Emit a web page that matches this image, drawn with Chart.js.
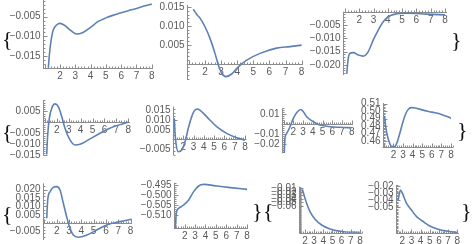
<!DOCTYPE html>
<html>
<head>
<meta charset="utf-8">
<script src="https://cdn.jsdelivr.net/npm/chart.js@4/dist/chart.umd.min.js"></script>
<style>
  body { margin: 0; background: #fff; width: 472px; height: 244px; overflow: hidden; position: relative; }
  canvas { position: absolute; left: 0; top: 0; }
  .br { position: absolute; font: 22px "Liberation Serif"; color: #111; line-height: 1; }
</style>
</head>
<body>
<script>
// === DATA ===
const xTicks = [2, 3, 4, 5, 6, 7, 8];

// row 1
const p1X = [1.24, 1.3, 1.4, 1.56, 1.78, 2.0, 2.3, 2.7, 3.09, 3.5, 4.0, 4.5, 5.0, 5.5, 6.0, 6.5, 7.0, 7.5, 8.0];
const p1Y = [-0.0180, -0.0150, -0.0115, -0.0084, -0.0071, -0.0067, -0.0072, -0.0085, -0.0094, -0.0090, -0.0077, -0.0062, -0.0053, -0.0046, -0.0040, -0.0034, -0.0029, -0.0023, -0.0018];
const p1Ticks = [-0.015, -0.010, -0.005];

const p2X = [1.27, 1.5, 1.69, 2.0, 2.31, 2.62, 2.83, 3.04, 3.3, 3.66, 4.07, 4.59, 5.42, 6.45, 7.28, 8.0];
const p2Y = [0.01446, 0.0130, 0.0121, 0.0098, 0.0067, 0.0027, -0.0004, -0.0026, -0.0035, -0.0028, -0.0009, 0.0009, 0.0027, 0.0041, 0.0045, 0.0049];
const p2Ticks = [0.005, 0.010, 0.015];

const p3X = [1.12, 1.23, 1.35, 1.58, 1.93, 2.28, 2.63, 2.98, 3.33, 3.68, 4.03, 4.5, 5.32, 6.72, 8.0];
const p3Y = [-0.0234, -0.0175, -0.0156, -0.0154, -0.0163, -0.0167, -0.0150, -0.0106, -0.0069, -0.0038, -0.0019, -0.0009, -0.0006, -0.0009, -0.0012];
const p3Ticks = [-0.020, -0.015, -0.010, -0.005];

// row 2
const p4X = [1.16, 1.24, 1.38, 1.58, 1.86, 2.13, 2.42, 2.69, 3.11, 3.53, 3.95, 4.65, 5.63, 6.74, 8.0];
const p4Y = [-0.0146, -0.0058, 0.0018, 0.0064, 0.0084, 0.0071, 0.0026, -0.0027, -0.0080, -0.0103, -0.0100, -0.0080, -0.0050, -0.0020, 0.0];
const p4Ticks = [-0.015, -0.010, -0.005, 0.005];

const p5X = [1.13, 1.19, 1.29, 1.52, 1.85, 2.17, 2.49, 2.82, 3.14, 3.4, 3.79, 4.43, 5.25, 6.22, 7.2, 8.0];
const p5Y = [0.011, 0.004, -0.0021, -0.0065, -0.0056, -0.0013, 0.0058, 0.0119, 0.0154, 0.0159, 0.0145, 0.011, 0.0066, 0.0031, 0.0008, -0.0004];
const p5Ticks = [-0.005, 0.005, 0.010, 0.015];

const p6X = [1.07, 1.14, 1.32, 1.66, 2.0, 2.4, 2.75, 3.05, 3.37, 4.05, 4.74, 5.77, 6.8, 8.0];
const p6Y = [-0.029, -0.014, -0.009, -0.0024, 0.006, 0.0122, 0.0148, 0.0123, 0.0076, 0.0026, -0.0007, -0.0024, -0.003, -0.0034];
const p6Ticks = [-0.02, -0.01, 0.01];

const p7X = [1.05, 1.2, 1.4, 1.6, 1.8, 2.0, 2.2, 2.4, 2.7, 3.0, 3.3, 3.6, 3.9, 4.3, 5.0, 6.0, 7.0, 8.0];
const p7Y = [0.4935, 0.478, 0.465, 0.457, 0.4525, 0.452, 0.4535, 0.459, 0.472, 0.486, 0.497, 0.503, 0.5045, 0.504, 0.5015, 0.4985, 0.4955, 0.4905];
const p7Ticks = [0.46, 0.47, 0.48, 0.49, 0.50, 0.51];

// row 3
const p8X = [1.19, 1.27, 1.46, 1.72, 2.0, 2.27, 2.54, 2.81, 3.08, 3.35, 3.76, 4.44, 5.25, 6.07, 7.15, 8.1];
const p8Y = [0.003, 0.0139, 0.0188, 0.0214, 0.0218, 0.0198, 0.0119, 0.0039, -0.003, -0.007, -0.0083, -0.007, -0.004, -0.001, 0.001, 0.0024];
const p8Ticks = [-0.005, 0.005, 0.010, 0.015, 0.020];

const p9X = [1.1, 1.19, 1.41, 1.9, 2.38, 2.86, 3.34, 3.82, 5.1, 6.38, 8.0];
const p9Y = [-0.5167, -0.5092, -0.5067, -0.505, -0.5025, -0.4983, -0.4955, -0.4947, -0.4955, -0.4963, -0.4972];
const p9Ticks = [-0.510, -0.505, -0.500, -0.495];

const p10X = [1.71, 2.0, 2.25, 2.55, 3.1, 3.82, 4.73, 6.18, 8.0];
const p10Y = [-0.0128, -0.038, -0.057, -0.076, -0.0976, -0.1137, -0.125, -0.1326, -0.135];
const p10Ticks = [-0.06, -0.05, -0.04, -0.03, -0.02, -0.01];

const p11X = [1.55, 1.8, 2.0, 2.47, 3.0, 3.56, 4.2, 5.0, 6.0, 6.8, 8.0];
const p11Y = [-0.0393, -0.025, -0.0293, -0.044, -0.0536, -0.0631, -0.0693, -0.0764, -0.0814, -0.0836, -0.0857];
const p11Ticks = [-0.05, -0.04, -0.03, -0.02];

// === LAYOUT (plot box in page px + axis ranges) ===
const plots = [
  { xs: p1X, ys: p1Y, ticks: p1Ticks, dec: 3, box: [43, 0, 153, 68],       x: [0.89, 8.08],  y: [-0.01805, -0.00075] },
  { xs: p2X, ys: p2Y, ticks: p2Ticks, dec: 3, box: [186.7, 5, 303, 80],    x: [0.863, 8.087], y: [-0.0044, 0.0156] },
  { xs: p3X, ys: p3Y, ticks: p3Ticks, dec: 3, box: [343.3, 11.7, 447, 75], x: [0.881, 8.143], y: [-0.0238, 0] },
  { xs: p4X, ys: p4Y, ticks: p4Ticks, dec: 3, box: [43.3, 100, 130, 155.5], x: [0.874, 8.14], y: [-0.01509, 0.01014] },
  { xs: p5X, ys: p5Y, ticks: p5Ticks, dec: 3, box: [172.7, 106.7, 246.5, 155], x: [0.971, 8.15], y: [-0.00823, 0.0171] },
  { xs: p6X, ys: p6Y, ticks: p6Ticks, dec: 2, box: [281.7, 108.3, 353, 153.3], x: [0.805, 8.13], y: [-0.029, 0.016] },
  { xs: p7X, ys: p7Y, ticks: p7Ticks, dec: 2, box: [382.7, 103, 453, 147], x: [0.875, 8.21], y: [0.452, 0.5107] },
  { xs: p8X, ys: p8Y, ticks: p8Ticks, dec: 3, box: [43.3, 183.3, 132, 240], x: [0.911, 8.12], y: [-0.00994, 0.0238] },
  { xs: p9X, ys: p9Y, ticks: p9Ticks, dec: 3, box: [174, 182.7, 248, 228.3], x: [0.971, 8.09], y: [-0.51665, -0.49385] },
  { xs: p10X, ys: p10Y, ticks: p10Ticks, dec: 2, box: [299.3, 186.7, 362, 232.7], x: [1.382, 8.22], y: [-0.1354, -0.00548] },
  { xs: p11X, ys: p11Y, ticks: p11Ticks, dec: 2, box: [396, 185, 459, 233.3], x: [1.316, 8.19], y: [-0.0869, -0.0179] }
];

const braces = [
  ['{', 2, 28], ['}', 451, 29],
  ['{', 2, 121], ['}', 457, 119],
  ['{', 2, 203], ['}', 252, 200], ['{', 263, 200], ['}', 461, 200]
];

// === AXES PLUGIN (Mathematica style axes) ===
const fmt = (v, d) => (v < 0 ? '\u2212' : '') + Math.abs(v).toFixed(d);

const mmaAxes = {
  id: 'mmaAxes',
  beforeDatasetsDraw(chart, args, o) {
    const { ctx, chartArea: a, scales: { x, y } } = chart;
    const axisV = (y.min <= 0 && y.max >= 0) ? 0 : y.min;
    const ay = Math.round(y.getPixelForValue(axisV)) + 0.5;
    const ax = Math.round(a.left) + 0.5;
    ctx.save();
    ctx.strokeStyle = '#8c8c8c';
    ctx.lineWidth = 1;
    ctx.beginPath();
    ctx.moveTo(a.left, ay); ctx.lineTo(a.right, ay);
    ctx.moveTo(ax, a.top); ctx.lineTo(ax, a.bottom);
    // x ticks, minor every 0.2
    for (let k = Math.ceil(x.min * 5); k <= Math.floor(x.max * 5); k++) {
      const px = Math.round(x.getPixelForValue(k / 5)) + 0.5;
      const len = (k % 5 === 0) ? 4 : 2;
      ctx.moveTo(px, ay); ctx.lineTo(px, ay - len);
    }
    // y ticks, 4 minors between majors
    const step = (o.ticks[1] - o.ticks[0]) / 5;
    for (let k = Math.ceil(y.min / step - 1e-6); k <= Math.floor(y.max / step + 1e-6); k++) {
      const v = k * step;
      const py = Math.round(y.getPixelForValue(v)) + 0.5;
      const major = o.ticks.some(t => Math.abs(t - v) < step / 10);
      ctx.moveTo(ax, py); ctx.lineTo(ax + (major ? 4 : 2), py);
    }
    ctx.stroke();

    ctx.fillStyle = '#595959';
    ctx.font = '10px "Liberation Sans"';
    ctx.textAlign = 'center';
    ctx.textBaseline = 'top';
    xTicks.forEach(t => ctx.fillText(String(t), x.getPixelForValue(t), ay + 2.5));
    ctx.textAlign = 'right';
    ctx.textBaseline = 'middle';
    o.ticks.forEach(t => ctx.fillText(fmt(t, o.dec), ax - 3, y.getPixelForValue(t)));
    ctx.restore();
  }
};

// === CHARTS ===
plots.forEach(p => {
  const cv = document.createElement('canvas');
  cv.width = 472; cv.height = 244;
  document.body.appendChild(cv);
  new Chart(cv, {
    type: 'line',
    data: {
      datasets: [{
        data: p.xs.map((v, i) => ({ x: v, y: p.ys[i] })),
        borderColor: '#5e81b5',
        borderWidth: 1.6,
        pointRadius: 0,
        cubicInterpolationMode: 'monotone',
        fill: false
      }]
    },
    options: {
      responsive: false,
      animation: false,
      devicePixelRatio: 1,
      layout: { padding: { left: p.box[0], top: p.box[1], right: 472 - p.box[2], bottom: 244 - p.box[3] } },
      scales: {
        x: { type: 'linear', min: p.x[0], max: p.x[1], display: false },
        y: { type: 'linear', min: p.y[0], max: p.y[1], display: false }
      },
      plugins: {
        legend: { display: false },
        tooltip: { enabled: false },
        mmaAxes: { ticks: p.ticks, dec: p.dec }
      }
    },
    plugins: [mmaAxes]
  });
});

braces.forEach(b => {
  const d = document.createElement('div');
  d.className = 'br';
  d.textContent = b[0];
  d.style.left = b[1] + 'px';
  d.style.top = b[2] + 'px';
  document.body.appendChild(d);
});
</script>
</body>
</html>
